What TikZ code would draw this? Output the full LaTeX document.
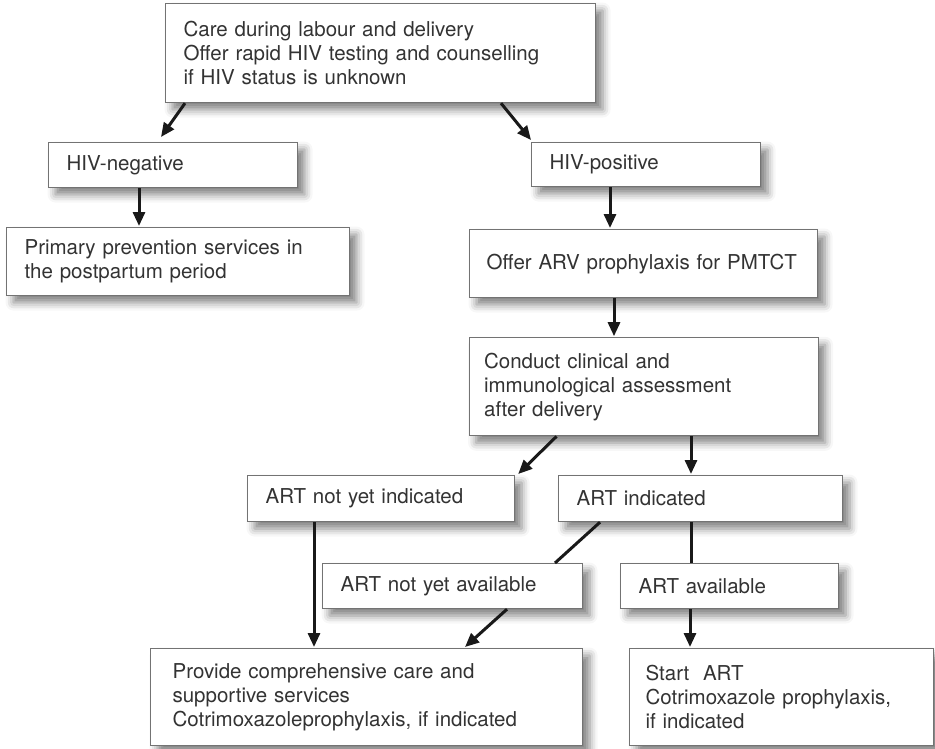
\documentclass[tikz,border=0pt]{standalone}
\usepackage{fontspec}
\setmainfont{TeX Gyre Heros}
\usepackage{tikz}
\usetikzlibrary{positioning}
\usetikzlibrary{arrows.meta}
\usetikzlibrary{shadows.blur}

\begin{document}
\begin{tikzpicture}
[
x=1pt, y=-1pt,
box-a/.style={rectangle, draw=black!55, line width=1.2pt, fill=white, anchor=north west,
  inner xsep=18pt, inner ysep=0pt, align=left, text=black!80, font=\fontsize{20.5}{24}\selectfont,
  blur shadow={shadow xshift=7pt, shadow yshift=-7pt, shadow blur radius=8pt, shadow opacity=50}},
arrow-a/.style={draw=black!90, line width=3pt, -{Triangle[length=14pt, width=12pt]}},
line-a/.style={draw=black!90, line width=3pt},
]
\useasboundingbox (0,0) rectangle (935,749);
\node (care)     [box-a, minimum width=430pt, minimum height=99pt, text width=394pt] at (165,3)
  {Care during labour and delivery\\Offer rapid HIV testing and counselling\\if HIV status is unknown};
\node (neg)      [box-a, minimum width=249pt, minimum height=45pt, text width=213pt] at (48,142)  {HIV-negative};
\node (pos)      [box-a, minimum width=229pt, minimum height=44pt, text width=193pt] at (531,142) {HIV-positive};
\node (prim)     [box-a, minimum width=343pt, minimum height=68pt, text width=307pt] at (6,227)
  {Primary prevention services in\\the postpartum period};
\node (offer)    [box-a, minimum width=348pt, minimum height=68pt, inner xsep=17pt, text width=314pt] at (469,229)
  {Offer ARV prophylaxis for PMTCT};
\node (conduct)  [box-a, below = 39pt of offer, minimum width=349pt, minimum height=98pt, inner xsep=15pt, text width=319pt]
  {Conduct clinical and\\immunological assessment\\after delivery};
\node (notind)   [box-a, minimum width=267pt, minimum height=46pt, text width=231pt] at (247,475) {ART not yet indicated};
\node (ind)      [box-a, minimum width=284pt, minimum height=46pt, text width=248pt] at (558,475) {ART indicated};
\node (notavail) [box-a, minimum width=260pt, minimum height=45pt, text width=224pt] at (322,563) {ART not yet available};
\node (avail)    [box-a, minimum width=218pt, minimum height=45pt, text width=182pt] at (620,563) {ART available};
\node (provide)  [box-a, minimum width=432pt, minimum height=97pt, inner xsep=22pt, text width=388pt] at (150,648)
  {Provide comprehensive care and\\supportive services\\Cotrimoxazoleprophylaxis, if indicated};
\node (start)    [box-a, minimum width=304pt, minimum height=97pt, inner xsep=16pt, text width=272pt] at (629,648)
  {Start\ \ ART\\Cotrimoxazole prophylaxis,\\if indicated};
\draw [arrow-a] ([shift={(20,0)}]care.south west)     -- ([shift={(113,-5)}]neg.north west);
\draw [arrow-a] ([shift={(336,0)}]care.south west)    -- ([shift={(0,-2)}]pos.north west);
\draw [arrow-a] ([shift={(91,0)}]neg.south west)      -- ([shift={(133,-1)}]prim.north west);
\draw [arrow-a] ([shift={(79,0)}]pos.south west)      -- ([shift={(141,-1)}]offer.north west);
\draw [arrow-a] ([shift={(145,0)}]offer.south west)   -- ([shift={(145.5,-1)}]conduct.north west);
\draw [arrow-a] ([shift={(88,0)}]conduct.south west)  -- ([shift={(3,-1)}]notind.north east);
\draw [arrow-a] ([shift={(222.5,0)}]conduct.south west) -- ([shift={(133,-1)}]ind.north west);
\draw [arrow-a] ([shift={(67,0)}]notind.south west)   -- ([shift={(164,-1)}]provide.north west);
\draw [line-a]  ([shift={(42,0)}]ind.south west)      -- ([shift={(233,0)}]notavail.north west);
\draw [arrow-a] ([shift={(185,0)}]notavail.south west) -- ([shift={(315,-1)}]provide.north west);
\draw [line-a]  ([shift={(133,0)}]ind.south west)     -- ([shift={(71,0)}]avail.north west);
\draw [arrow-a] ([shift={(70,0)}]avail.south west)    -- ([shift={(61,-1)}]start.north west);
\end{tikzpicture}
\end{document}
